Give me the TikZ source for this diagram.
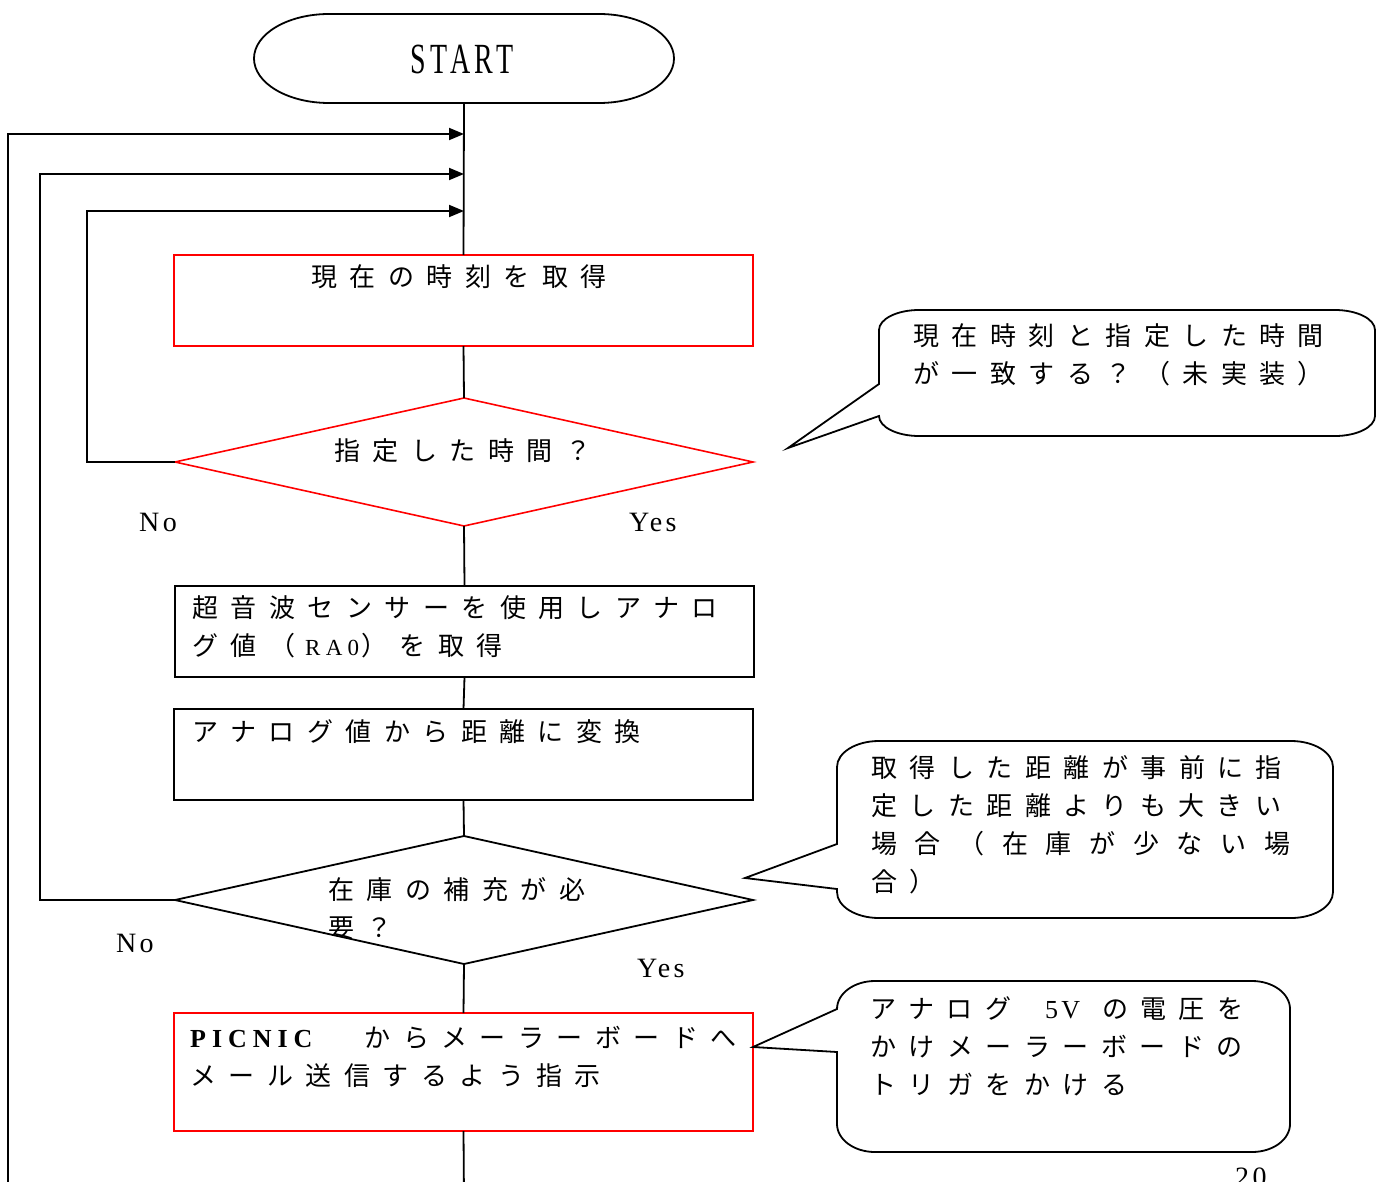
\documentclass[tikz,border=0pt]{standalone}
\usepackage{fontspec}
\usepackage{graphicx}
\usetikzlibrary{arrows.meta,shapes.geometric}
\newfontfamily\jpf[LetterSpace=48]{Noto Sans CJK JP}
\newfontfamily\jpwide[LetterSpace=68]{Noto Sans CJK JP}
\newfontfamily\latf[LetterSpace=12]{Liberation Serif}
\newfontfamily\latmid[LetterSpace=23]{Liberation Serif}
\newfontfamily\startf[LetterSpace=17]{Liberation Serif}
\tikzset{
  jptext/.style={font=\jpf\fontsize{26}{38}\selectfont, inner sep=0pt, anchor=base west},
  lttext/.style={font=\latf\fontsize{28}{34}\selectfont, inner sep=0pt, anchor=base west},
  redbox/.style={draw=red, line width=1.6pt, minimum width=579pt, minimum height=91pt, inner sep=0pt, outer sep=0pt},
  blkbox/.style={draw=black, line width=1.8pt, minimum width=579pt, minimum height=91pt, inner sep=0pt, outer sep=0pt},
  decision/.style={shape=diamond, line width=1.6pt, minimum width=578pt, minimum height=128pt, inner sep=0pt, outer sep=0pt},
  flow/.style={line width=1.8pt, draw=black},
  arr/.style={flow, -{Triangle[length=15pt,width=12pt]}},
  bubble/.style={draw=black, line width=1.8pt, fill=white, line join=miter},
}
\begin{document}
\begin{tikzpicture}[x=1pt,y=-1pt]
\fill[white] (0,0) rectangle (1386,1182);
\useasboundingbox (0,0) rectangle (1386,1182);

% START terminal
\draw[flow] (329,14) -- (599,14) .. controls (640.4,14) and (674,33.9) .. (674,58.5)
  .. controls (674,83.1) and (640.4,103) .. (599,103) -- (329,103)
  .. controls (287.6,103) and (254,83.1) .. (254,58.5)
  .. controls (254,33.9) and (287.6,14) .. (329,14) -- cycle;
\node[inner sep=0pt, minimum width=420pt, minimum height=89pt] (start) at (464,58.5) {};
\node[inner sep=0pt, anchor=base] (starttext) at (462,74)
  {\scalebox{0.65}[1]{\startf\fontsize{43}{50}\selectfont START}};

% boxes and decisions
\node[redbox] (b1) at (463.5,300.5) {};
\node[decision, draw=red] (d1) at (464,462) {};
\node[blkbox] (b2) at (464.5,631.5) {};
\node[blkbox] (b3) at (463.5,754.5) {};
\node[decision, draw=black, line width=1.8pt] (d2) at (464,900) {};
\node[redbox, minimum height=118pt] (b4) at (463.5,1072) {};

% texts
\node[jptext] (t1) at (311,287) {現在の時刻を取得};
\node[jptext] (t2) at (334,460) {指定した時間？};
\node[jptext] (t3a) at (192,617) {超音波センサーを使用しアナロ};
\node[jptext] (t3b) at (192,655) {グ値（\hspace*{10pt}{\latmid\fontsize{23}{38}\selectfont RA0}\hspace*{2pt}）を取得};
\node[jptext] (t4) at (192,741) {アナログ値から距離に変換};
\begin{scope}
  \clip (d2.north) -- (d2.east) -- (d2.south) -- (d2.west) -- cycle;
  \node[jptext] (t5a) at (328,899) {在庫の補充が必};
  \node[jptext] (t5b) at (328,937) {要？};
\end{scope}
\node[jptext] (t6a) at (190,1047) {{\latmid\bfseries PICNIC}\hspace*{52pt}からメーラーボードへ};
\node[jptext] (t6b) at (190,1085) {メール送信するよう指示};

\node[lttext] (no1) at (139,531) {No};
\node[lttext] (yes1) at (629,531) {Yes};
\node[lttext] (no2) at (116,952) {No};
\node[lttext] (yes2) at (637,977) {Yes};

% main flow
\coordinate (j1) at (464,134);
\coordinate (j2) at (464,174);
\coordinate (j3) at (464,211);
\coordinate (loopin) at (8,1200);
\coordinate (flowout) at (464,1200);
\draw[flow] (start.south) -- (b1.north);
\draw[flow] (b1.south) -- (d1.north);
\draw[flow] (d1.south) -- (b2.north);
\draw[flow] (b2.south) -- (b3.north);
\draw[flow] (b3.south) -- (d2.north);
\draw[flow] (d2.south) -- (b4.north);
\draw[flow] (b4.south) -- (flowout);

% loops back
\draw[arr] (d1.west) -| (87,211) -- (j3);
\draw[arr] (d2.west) -| (40,174) -- (j2);
\draw[arr] (loopin) -- (8,134) -- (j1);

% callout 1
\draw[bubble] (879,416) .. controls (879,427) and (897,436) .. (919,436)
  -- (1335,436) .. controls (1357,436) and (1375,427) .. (1375,416)
  -- (1375,330) .. controls (1375,319) and (1357,310) .. (1335,310)
  -- (919,310) .. controls (897,310) and (879,319) .. (879,330)
  -- (879,384) -- (788,448) -- cycle;
\node[jptext] (c1a) at (913,345) {現在時刻と指定した時間};
\node[jptext] (c1b) at (913,383) {が一致する？（未実装）};

% callout 2
\draw[bubble] (837,889) -- (837,892) .. controls (837,906.4) and (855.8,918) .. (879,918)
  -- (1291,918) .. controls (1314.2,918) and (1333,906.4) .. (1333,892)
  -- (1333,767) .. controls (1333,752.6) and (1314.2,741) .. (1291,741)
  -- (879,741) .. controls (855.8,741) and (837,752.6) .. (837,767)
  -- (837,844) -- (745,878) -- cycle;
\node[jptext] (c2a) at (871,777) {取得した距離が事前に指};
\node[jptext] (c2b) at (871,815) {定した距離よりも大きい};
\node[jptext] (c2c) at (871,853) {\jpwide 場合（在庫が少ない場};
\node[jptext] (c2d) at (871,891) {合）};

% callout 3
\draw[bubble] (837,1052) -- (837,1124) .. controls (837,1139.5) and (854,1152) .. (875,1152)
  -- (1252,1152) .. controls (1273,1152) and (1290,1139.5) .. (1290,1124)
  -- (1290,1009) .. controls (1290,993.5) and (1273,981) .. (1252,981)
  -- (875,981) .. controls (854,981) and (837,993.5) .. (837,1009)
  -- (753,1047) -- cycle;
\node[jptext] (c3a) at (870,1018) {アナログ\hspace*{34pt}{\latf 5V}\hspace*{22pt}の電圧を};
\node[jptext] (c3b) at (870,1056) {かけメーラーボードの};
\node[jptext] (c3c) at (870,1094) {トリガをかける};

% page number
\node[lttext] (pageno) at (1235,1186) {20};
\end{tikzpicture}
\end{document}
